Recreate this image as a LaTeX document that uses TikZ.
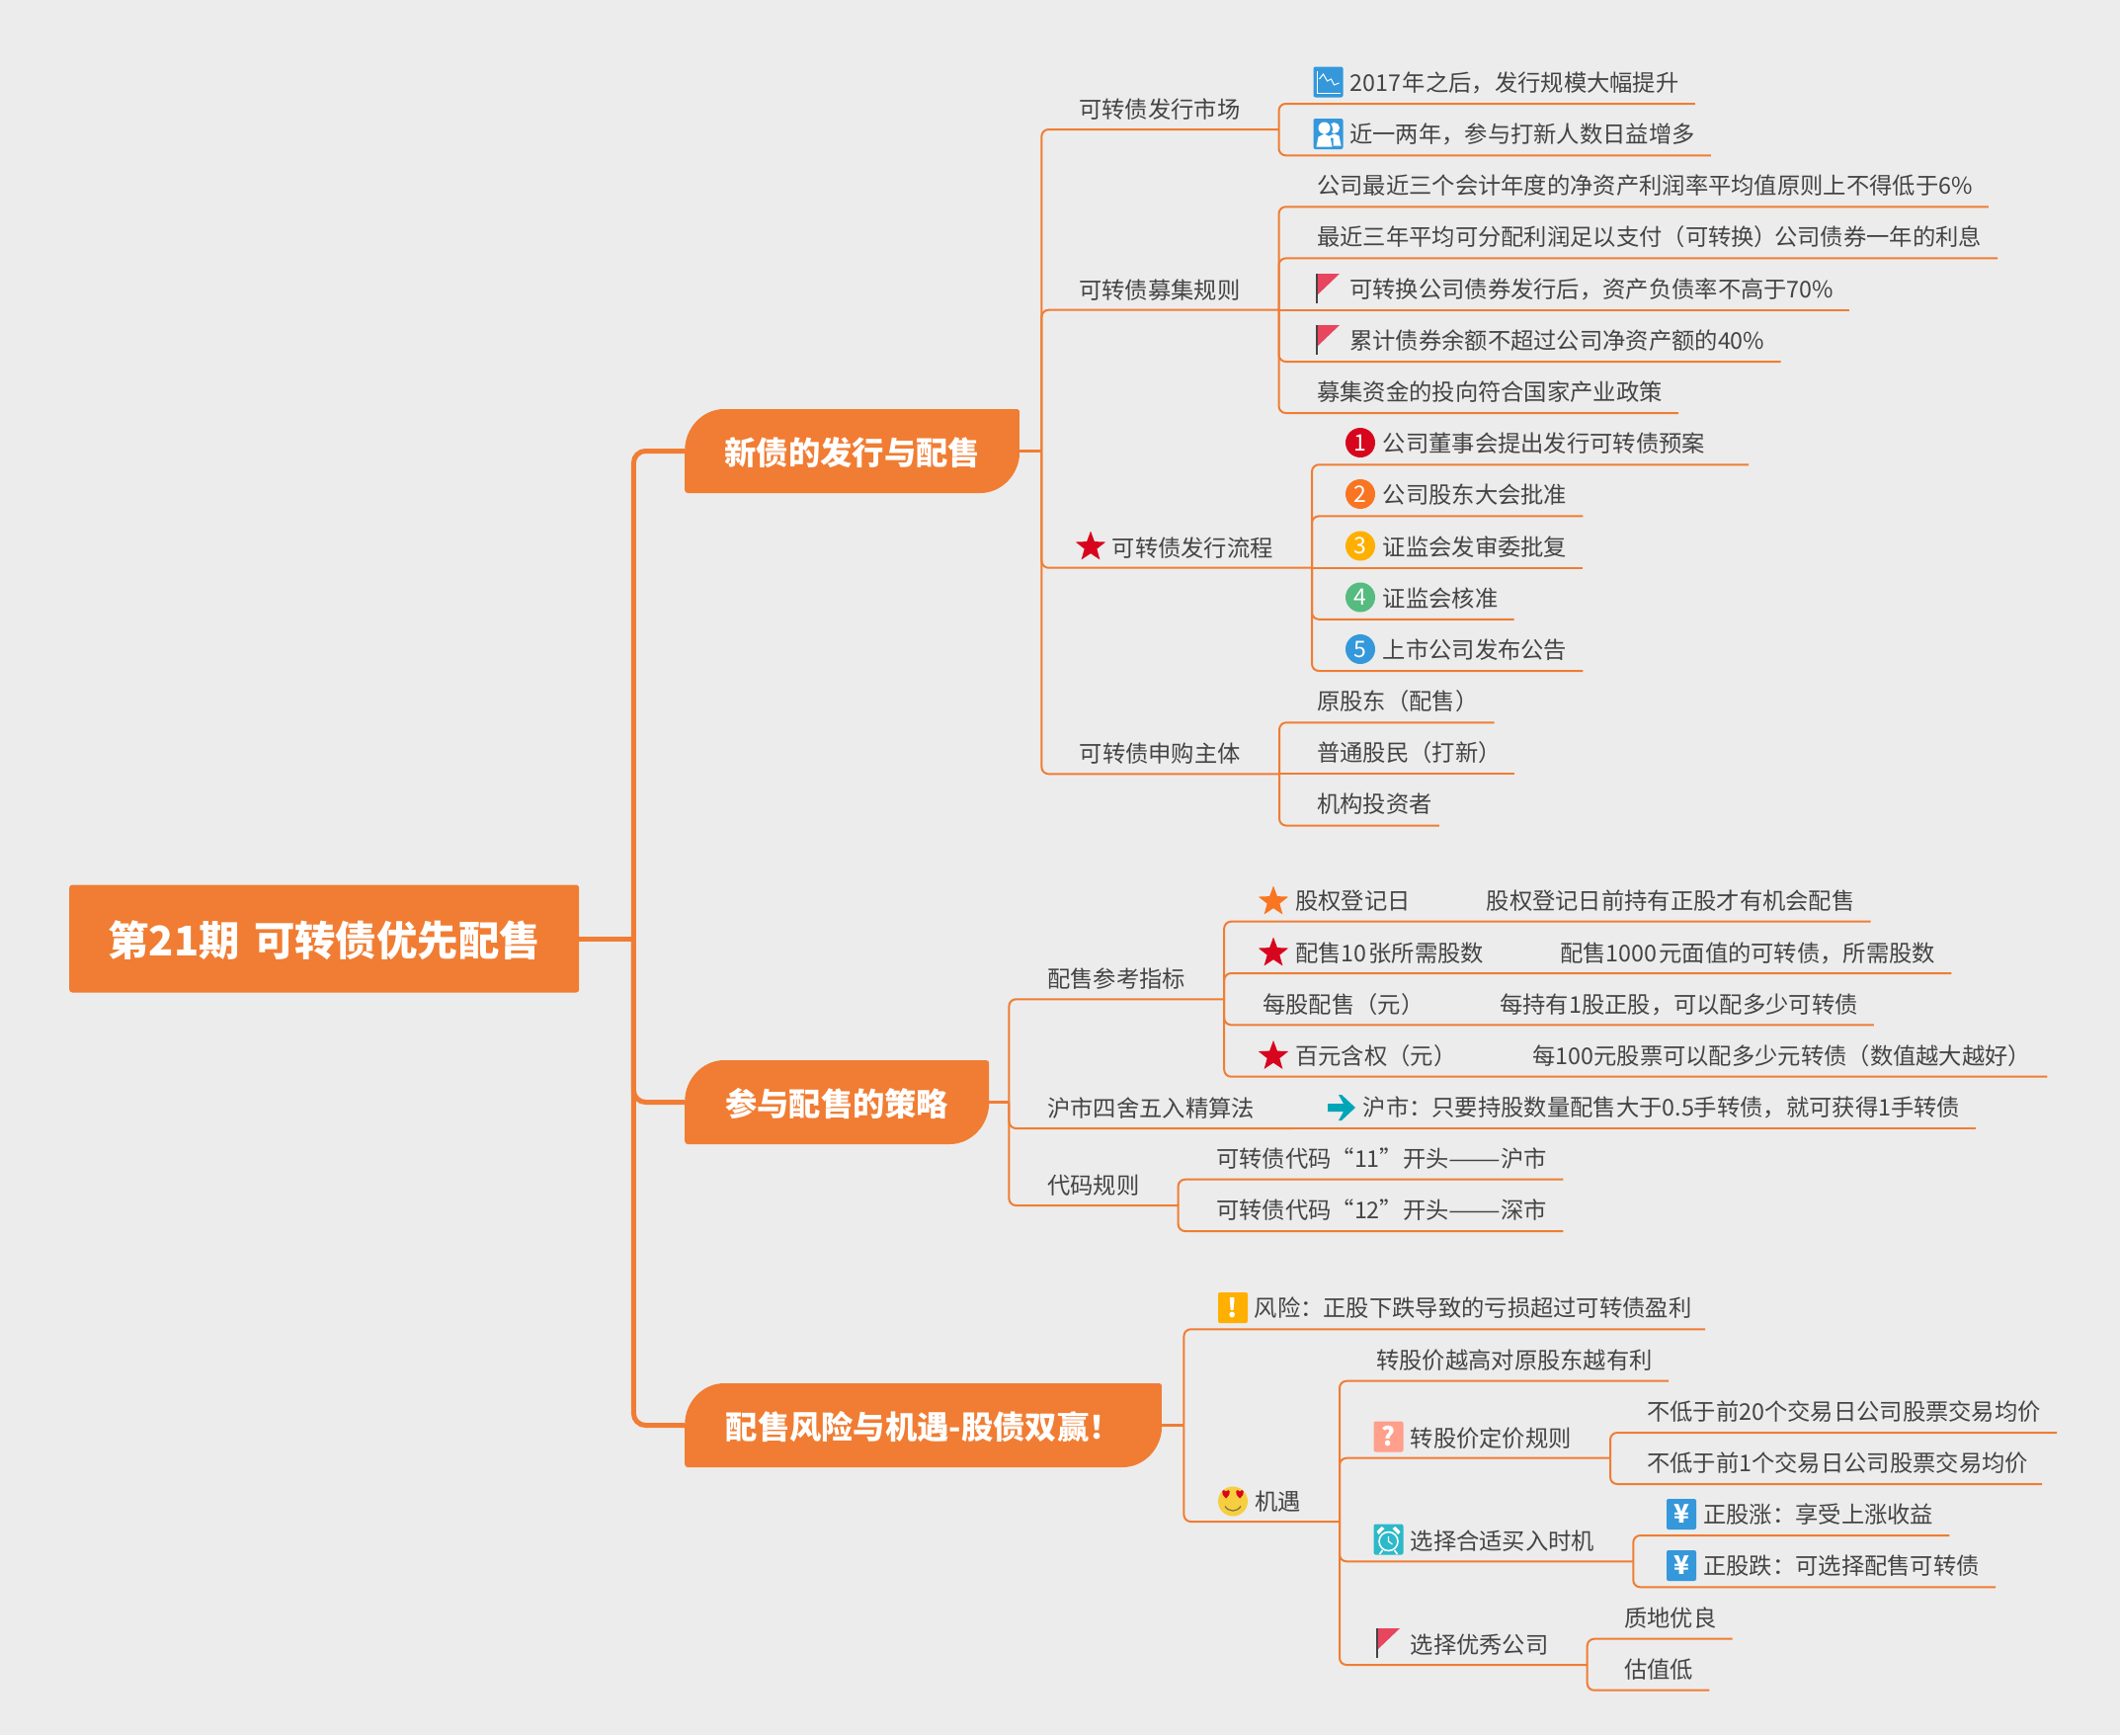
\documentclass[tikz,border=0pt]{standalone}
\usepackage{fontspec}
\setmainfont{Noto Sans CJK SC}
\newfontfamily\widedash[FakeStretch=1.35]{Noto Sans CJK SC}
\definecolor{mmbg}{HTML}{ECECEC}
\definecolor{mmorange}{HTML}{F07D33}
\definecolor{mmtext}{HTML}{444444}
\definecolor{mmred}{HTML}{D7061E}
\definecolor{mmamber}{HTML}{F97521}
\definecolor{mmyellow}{HTML}{FFAF00}
\definecolor{mmgreen}{HTML}{55BB7F}
\definecolor{mmblue}{HTML}{3498DB}
\definecolor{mmsalmon}{HTML}{FF9F8C}
\definecolor{mmteal}{HTML}{2CB9C9}
\definecolor{mmarrow}{HTML}{00A5B8}
\definecolor{mmflag}{HTML}{E8455F}
\definecolor{mmface}{HTML}{F6CE3F}
\usetikzlibrary{shapes.geometric}
\newcommand{\gapsp}{\hspace{77pt}}
\tikzset{
  leaf/.style={anchor=south west, inner xsep=16pt, inner ysep=0pt, text height=19pt,
               text depth=12.5pt, text=mmtext, font=\fontsize{23.3}{28}\selectfont},
  branch/.style={leaf, inner xsep=39pt, text depth=11.5pt},
  topic/.style={anchor=west, inner xsep=0pt, inner ysep=0pt, minimum height=85pt, rounded corners=3pt,
                text height=30pt, text depth=1.5pt,
                text=white, font=\fontsize{32.3}{38}\selectfont\bfseries,
                path picture={\fill[mmorange, sharp corners] ([yshift=-42pt]path picture bounding box.north west)
                  .. controls ([yshift=-19pt]path picture bounding box.north west)
                  and ([xshift=18pt]path picture bounding box.north west) .. ([xshift=40pt]path picture bounding box.north west)
                  -- (path picture bounding box.north east) -- ([yshift=42pt]path picture bounding box.south east)
                  .. controls ([yshift=19pt]path picture bounding box.south east)
                  and ([xshift=-18pt]path picture bounding box.south east) .. ([xshift=-40pt]path picture bounding box.south east)
                  -- (path picture bounding box.south west) -- cycle;}},
  rootbox/.style={anchor=west, inner xsep=0pt, inner ysep=0pt, minimum width=516pt, minimum height=109pt,
                  rounded corners=3pt, text height=37pt, text depth=1.5pt,
                  fill=mmorange, text=white, font=\fontsize{41.4}{48}\selectfont\bfseries},
  ln/.style={draw=mmorange, line width=2pt, rounded corners=7pt},
  trunk/.style={draw=mmorange, line width=5pt, rounded corners=12pt},
  numdot/.style={circle, minimum size=30pt, inner sep=0pt, text=white, font=\fontsize{23}{26}\selectfont},
  stark/.style={star, star points=5, star point ratio=2.4, minimum size=32pt, inner sep=0pt},
  iconbox/.style={minimum width=30pt, minimum height=31pt, inner sep=0pt, rounded corners=2pt,
                  text=white, font=\fontsize{26}{28}\selectfont\bfseries},
  flagicon/.pic={
    \draw[mmtext, line width=1.6pt] (-11,-15) -- (-11,15);
    \fill[mmflag] (-10,-15) -- (12,-15) -- (-10,6) -- cycle;},
  charticon/.pic={
    \fill[mmblue, rounded corners=2pt] (-15,-15.5) rectangle (15,15.5);
    \draw[white, line width=1pt] (-11,-11) -- (-11,11) -- (12,11);
    \draw[white, line width=1pt] (-9,-3) -- (-5,-8) -- (-1,-1) -- (3,-3) -- (6,3) -- (11,1);},
  peopleicon/.pic={
    \fill[mmblue, rounded corners=2pt] (-15,-15.5) rectangle (15,15.5);
    \fill[white] (6,-6) circle (5.5) (-0.5,12) -- (1,2) -- (6,0) -- (11,2) -- (13,12) -- cycle;
    \fill[mmblue] (-3,-5) circle (7.5) (-12,13) rectangle (5,4);
    \fill[white] (-4,-6) circle (6) (-12,13) -- (-10,3) -- (-4,0) -- (2,3) -- (4,13) -- cycle;},
  clockicon/.pic={
    \fill[mmteal, rounded corners=2pt] (-15,-15.5) rectangle (15,15.5);
    \draw[white, line width=1.6pt] (0,2) circle (9.5);
    \draw[white, line width=1.2pt] (0,-3) -- (0,2) -- (4,5);
    \fill[white] (-12,-8) -- (-7,-13) -- (-4,-11) -- (-10,-5) -- cycle (12,-8) -- (7,-13) -- (4,-11) -- (10,-5) -- cycle;
    \draw[white, line width=1.6pt] (-6,11) -- (-9,15) (6,11) -- (9,15);},
  faceicon/.pic={
    \fill[mmface] (0,0) circle (15);
    \fill[mmred] (-7,-3) .. controls (-14,-9) and (-10,-14) .. (-7,-10) .. controls (-4,-14) and (0,-9) .. (-7,-3) -- cycle;
    \fill[mmred] (7,-3) .. controls (0,-9) and (4,-14) .. (7,-10) .. controls (10,-14) and (14,-9) .. (7,-3) -- cycle;
    \draw[mmtext!70!mmface, line width=1.2pt] (-8,5) .. controls (-4,11) and (4,11) .. (8,5);},
  arrowicon/.pic={
    \fill[mmarrow] (-14,-4) -- (2,-4) -- (-3,-13) -- (0,-13) -- (14,0) -- (0,13) -- (-3,13) -- (2,4) -- (-14,4) -- cycle;},
}
\begin{document}
\begin{tikzpicture}[x=1pt, y=-1pt]
  \fill[mmbg] (0,0) rectangle (2146,1756);

  \node[rootbox] (root) at (70,950) {第21期\hspace{5pt} 可转债优先配售};
  \node[topic, minimum width=339pt] (t1) at (693,456.5) {新债的发行与配售};
  \node[topic, minimum width=308pt] (t2) at (693,1115.5) {参与配售的策略};
  \node[topic, minimum width=483pt] (t3) at (693,1442.5) {配售风险与机遇-股债双赢！};
  \coordinate (jn0) at ([xshift=55pt]root.east);
  \coordinate (jn1) at ([xshift=22pt]t1.east);
  \coordinate (jn2) at ([xshift=20pt]t2.east);
  \coordinate (jn3) at ([xshift=22pt]t3.east);

  \node[branch] (a1) at (1053,131) {可转债发行市场};
  \node[leaf] (a11) at (1350,105) {2017\kern2pt 年之后，发行规模大幅提升};
  \node[leaf] (a12) at (1350,157.3) {近一两年，参与打新人数日益增多};
  \node[branch] (a2) at (1053,313.7) {可转债募集规则};
  \node[leaf] (a21) at (1317,209.3) {公司最近三个会计年度的净资产利润率平均值原则上不得低于6\%};
  \node[leaf] (a22) at (1317,261.4) {最近三年平均可分配利润足以支付（可转换）\kern-3pt 公司债券一年的利息};
  \node[leaf] (a23) at (1350,313.7) {可转换公司债券发行后，资产负债率不高于70\%};
  \node[leaf] (a24) at (1350,366) {累计债券余额不超过公司净资产额的40\%};
  \node[leaf] (a25) at (1317,418) {募集资金的投向符合国家产业政策};
  \node[branch] (a3) at (1086.5,574.7) {可转债发行流程};
  \node[leaf] (a31) at (1383.6,470.3) {公司董事会提出发行可转债预案\kern28pt};
  \node[leaf] (a32) at (1383.6,522.4) {公司股东大会批准};
  \node[leaf] (a33) at (1383.6,574.7) {证监会发审委批复};
  \node[leaf] (a34) at (1383.6,626.8) {证监会核准};
  \node[leaf] (a35) at (1383.6,679) {上市公司发布公告};
  \node[branch] (a4) at (1053.5,783.3) {可转债申购主体};
  \node[leaf] (a41) at (1317,731.3) {原股东（配售）};
  \node[leaf] (a42) at (1317,783.3) {普通股民（打新）\kern-3pt};
  \node[leaf] (a43) at (1317,835.6) {机构投资者\kern-9pt};

  \node[branch] (b1) at (1021,1011.3) {配售参考指标};
  \node[leaf] (b11) at (1295,932.7) {股权登记日\gapsp 股权登记日前持有正股才有机会配售};
  \node[leaf, text depth=11.5pt] (b12) at (1295,985) {配售10\kern2pt 张所需股数\gapsp 配售1000\kern2pt 元面值的可转债，所需股数};
  \node[leaf, text depth=11.5pt] (b13) at (1262,1037.3) {每股配售（元）\gapsp 每持有1股正股，可以配多少可转债};
  \node[leaf] (b14) at (1295,1089.7) {百元含权（元）\gapsp 每100元股票可以配多少元转债（数值越大越好）};
  \node[branch] (b2) at (1021,1142) {沪市四舍五入精算法};
  \node[leaf] (b21) at (1363.5,1142) {沪市：只要持股数量配售大于0.5手转债，就可获得1手转债};
  \node[branch] (b3) at (1021,1220) {代码规则};
  \node[leaf] (b31) at (1215,1193.7) {可转债代码“11”开头{\widedash ——}沪市};
  \node[leaf] (b32) at (1215,1246) {可转债代码“12”开头{\widedash ——}深市};

  \node[leaf] (c1) at (1253.5,1345.3) {风险：正股下跌导致的亏损超过可转债盈利\kern-2.5pt};
  \node[branch] (c2) at (1231,1540) {机遇};
  \node[leaf] (c21) at (1377,1397.7) {转股价越高对原股东越有利};
  \node[branch] (c22) at (1388.5,1475.7) {转股价定价规则};
  \node[leaf] (c221) at (1651,1450) {不低于前20个交易日公司股票交易均价};
  \node[leaf] (c222) at (1651,1502) {不低于前1个交易日公司股票交易均价\kern-2pt};
  \node[branch] (c23) at (1388.5,1580.3) {选择合适买入时机};
  \node[leaf] (c231) at (1708,1554) {正股涨：享受上涨收益};
  \node[leaf] (c232) at (1708,1606.3) {正股跌：可选择配售可转债};
  \node[branch] (c24) at (1388.5,1685) {选择优秀公司};
  \node[leaf] (c241) at (1628,1658.7) {质地优良};
  \node[leaf] (c242) at (1628,1710.7) {估值低};

  \draw[trunk] (root.east) -- (jn0);
  \draw[trunk] (jn0) |- (t1.west);
  \draw[trunk] (jn0) |- (t2.west);
  \draw[trunk] (jn0) |- (t3.west);
  \draw[ln, line width=2.5pt] (t1.east) -- (jn1);
  \draw[ln, line width=2.5pt] (t2.east) -- (jn2);
  \draw[ln, line width=2.5pt] (t3.east) -- (jn3);
  \foreach \n in {a1,a2,a3,a4} \draw[ln] (jn1) |- (\n.south east);
  \foreach \n in {b1,b2,b3} \draw[ln] (jn2) |- (\n.south east);
  \foreach \n in {c1,c2} \draw[ln] (jn3) |- (\n.south east);
  \foreach \n in {a11,a12} \draw[ln] (a1.south east) |- (\n.south east);
  \foreach \n in {a21,a22,a24,a25} \draw[ln] (a2.south east) |- (\n.south east);
  \draw[ln] (a2.south east) -- (a23.south east);
  \foreach \n in {a31,a32,a34,a35} \draw[ln] (a3.south east) |- (\n.south east);
  \draw[ln] (a3.south east) -- (a33.south east);
  \foreach \n in {a41,a43} \draw[ln] (a4.south east) |- (\n.south east);
  \draw[ln] (a4.south east) -- (a42.south east);
  \foreach \n in {b11,b12,b13,b14} \draw[ln] (b1.south east) |- (\n.south east);
  \draw[ln] (b2.south east) -- (b21.south east);
  \foreach \n in {b31,b32} \draw[ln] (b3.south east) |- (\n.south east);
  \foreach \n in {c21,c22,c23,c24} \draw[ln] (c2.south east) |- (\n.south east);
  \foreach \n in {c221,c222} \draw[ln] (c22.south east) |- (\n.south east);
  \foreach \n in {c231,c232} \draw[ln] (c23.south east) |- (\n.south east);
  \foreach \n in {c241,c242} \draw[ln] (c24.south east) |- (\n.south east);

  \pic at (1344.5,83) {charticon};
  \pic at (1344.5,135.5) {peopleicon};
  \pic at (1344,292) {flagicon};
  \pic at (1344,344) {flagicon};
  \node[stark, fill=mmred] (s1) at (1104,553.5) {};
  \node[numdot, fill=mmred] (d1) at (1377,448) {1};
  \node[numdot, fill=mmamber] (d2) at (1377,500) {2};
  \node[numdot, fill=mmyellow] (d3) at (1377,552.5) {3};
  \node[numdot, fill=mmgreen] (d4) at (1377,604.5) {4};
  \node[numdot, fill=mmblue] (d5) at (1377,657) {5};

  \node[stark, fill=mmamber] (s2) at (1289,912.5) {};
  \node[stark, fill=mmred] (s3) at (1289,964.5) {};
  \node[stark, fill=mmred] (s4) at (1289,1069) {};
  \pic at (1358,1121) {arrowicon};

  \node[iconbox, fill=mmyellow] (w1) at (1248,1323.5) {!};
  \pic at (1248,1519.5) {faceicon};
  \node[iconbox, fill=mmsalmon] (q1) at (1405.5,1454) {?};
  \pic at (1405.5,1558) {clockicon};
  \node[iconbox, fill=mmblue] (y1) at (1702,1532.5) {¥};
  \node[iconbox, fill=mmblue] (y2) at (1702,1584.5) {¥};
  \pic at (1405,1663) {flagicon};
\end{tikzpicture}
\end{document}
